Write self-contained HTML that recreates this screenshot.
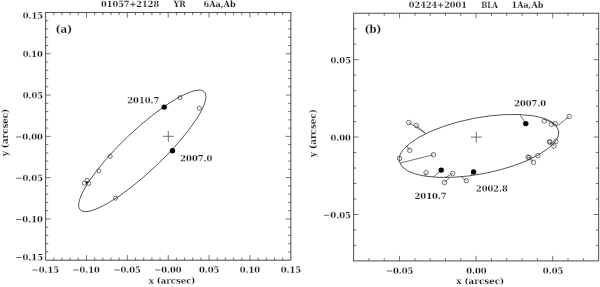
<!DOCTYPE html>
<html><head><meta charset="utf-8"><title>Orbits</title>
<style>
html,body{margin:0;padding:0;background:#fff;}
svg{display:block;font-family:'DejaVu Serif', 'Liberation Serif', serif;fill:#1a1a1a;}
text{font-weight:bold;font-kerning:none;stroke:#fff;stroke-width:0.16px;}
</style></head><body>
<svg width="600" height="287" viewBox="0 0 600 287">
<rect width="600" height="287" fill="#fff"/>
<rect x="45.60" y="12.50" width="245.25" height="247.70" fill="none" stroke="#555" stroke-width="1.05"/>
<line x1="53.77" y1="260.20" x2="53.77" y2="257.50" stroke="#383838" stroke-width="0.7"/>
<line x1="53.77" y1="12.50" x2="53.77" y2="15.20" stroke="#383838" stroke-width="0.7"/>
<line x1="45.60" y1="251.94" x2="48.30" y2="251.94" stroke="#383838" stroke-width="0.7"/>
<line x1="290.85" y1="251.94" x2="288.15" y2="251.94" stroke="#383838" stroke-width="0.7"/>
<line x1="61.95" y1="260.20" x2="61.95" y2="257.50" stroke="#383838" stroke-width="0.7"/>
<line x1="61.95" y1="12.50" x2="61.95" y2="15.20" stroke="#383838" stroke-width="0.7"/>
<line x1="45.60" y1="243.69" x2="48.30" y2="243.69" stroke="#383838" stroke-width="0.7"/>
<line x1="290.85" y1="243.69" x2="288.15" y2="243.69" stroke="#383838" stroke-width="0.7"/>
<line x1="70.12" y1="260.20" x2="70.12" y2="257.50" stroke="#383838" stroke-width="0.7"/>
<line x1="70.12" y1="12.50" x2="70.12" y2="15.20" stroke="#383838" stroke-width="0.7"/>
<line x1="45.60" y1="235.43" x2="48.30" y2="235.43" stroke="#383838" stroke-width="0.7"/>
<line x1="290.85" y1="235.43" x2="288.15" y2="235.43" stroke="#383838" stroke-width="0.7"/>
<line x1="78.30" y1="260.20" x2="78.30" y2="257.50" stroke="#383838" stroke-width="0.7"/>
<line x1="78.30" y1="12.50" x2="78.30" y2="15.20" stroke="#383838" stroke-width="0.7"/>
<line x1="45.60" y1="227.17" x2="48.30" y2="227.17" stroke="#383838" stroke-width="0.7"/>
<line x1="290.85" y1="227.17" x2="288.15" y2="227.17" stroke="#383838" stroke-width="0.7"/>
<line x1="86.47" y1="260.20" x2="86.47" y2="255.10" stroke="#383838" stroke-width="0.7"/>
<line x1="86.47" y1="12.50" x2="86.47" y2="17.60" stroke="#383838" stroke-width="0.7"/>
<line x1="45.60" y1="218.92" x2="50.70" y2="218.92" stroke="#383838" stroke-width="0.7"/>
<line x1="290.85" y1="218.92" x2="285.75" y2="218.92" stroke="#383838" stroke-width="0.7"/>
<line x1="94.65" y1="260.20" x2="94.65" y2="257.50" stroke="#383838" stroke-width="0.7"/>
<line x1="94.65" y1="12.50" x2="94.65" y2="15.20" stroke="#383838" stroke-width="0.7"/>
<line x1="45.60" y1="210.66" x2="48.30" y2="210.66" stroke="#383838" stroke-width="0.7"/>
<line x1="290.85" y1="210.66" x2="288.15" y2="210.66" stroke="#383838" stroke-width="0.7"/>
<line x1="102.83" y1="260.20" x2="102.83" y2="257.50" stroke="#383838" stroke-width="0.7"/>
<line x1="102.83" y1="12.50" x2="102.83" y2="15.20" stroke="#383838" stroke-width="0.7"/>
<line x1="45.60" y1="202.40" x2="48.30" y2="202.40" stroke="#383838" stroke-width="0.7"/>
<line x1="290.85" y1="202.40" x2="288.15" y2="202.40" stroke="#383838" stroke-width="0.7"/>
<line x1="111.00" y1="260.20" x2="111.00" y2="257.50" stroke="#383838" stroke-width="0.7"/>
<line x1="111.00" y1="12.50" x2="111.00" y2="15.20" stroke="#383838" stroke-width="0.7"/>
<line x1="45.60" y1="194.15" x2="48.30" y2="194.15" stroke="#383838" stroke-width="0.7"/>
<line x1="290.85" y1="194.15" x2="288.15" y2="194.15" stroke="#383838" stroke-width="0.7"/>
<line x1="119.18" y1="260.20" x2="119.18" y2="257.50" stroke="#383838" stroke-width="0.7"/>
<line x1="119.18" y1="12.50" x2="119.18" y2="15.20" stroke="#383838" stroke-width="0.7"/>
<line x1="45.60" y1="185.89" x2="48.30" y2="185.89" stroke="#383838" stroke-width="0.7"/>
<line x1="290.85" y1="185.89" x2="288.15" y2="185.89" stroke="#383838" stroke-width="0.7"/>
<line x1="127.35" y1="260.20" x2="127.35" y2="255.10" stroke="#383838" stroke-width="0.7"/>
<line x1="127.35" y1="12.50" x2="127.35" y2="17.60" stroke="#383838" stroke-width="0.7"/>
<line x1="45.60" y1="177.63" x2="50.70" y2="177.63" stroke="#383838" stroke-width="0.7"/>
<line x1="290.85" y1="177.63" x2="285.75" y2="177.63" stroke="#383838" stroke-width="0.7"/>
<line x1="135.53" y1="260.20" x2="135.53" y2="257.50" stroke="#383838" stroke-width="0.7"/>
<line x1="135.53" y1="12.50" x2="135.53" y2="15.20" stroke="#383838" stroke-width="0.7"/>
<line x1="45.60" y1="169.38" x2="48.30" y2="169.38" stroke="#383838" stroke-width="0.7"/>
<line x1="290.85" y1="169.38" x2="288.15" y2="169.38" stroke="#383838" stroke-width="0.7"/>
<line x1="143.70" y1="260.20" x2="143.70" y2="257.50" stroke="#383838" stroke-width="0.7"/>
<line x1="143.70" y1="12.50" x2="143.70" y2="15.20" stroke="#383838" stroke-width="0.7"/>
<line x1="45.60" y1="161.12" x2="48.30" y2="161.12" stroke="#383838" stroke-width="0.7"/>
<line x1="290.85" y1="161.12" x2="288.15" y2="161.12" stroke="#383838" stroke-width="0.7"/>
<line x1="151.88" y1="260.20" x2="151.88" y2="257.50" stroke="#383838" stroke-width="0.7"/>
<line x1="151.88" y1="12.50" x2="151.88" y2="15.20" stroke="#383838" stroke-width="0.7"/>
<line x1="45.60" y1="152.86" x2="48.30" y2="152.86" stroke="#383838" stroke-width="0.7"/>
<line x1="290.85" y1="152.86" x2="288.15" y2="152.86" stroke="#383838" stroke-width="0.7"/>
<line x1="160.05" y1="260.20" x2="160.05" y2="257.50" stroke="#383838" stroke-width="0.7"/>
<line x1="160.05" y1="12.50" x2="160.05" y2="15.20" stroke="#383838" stroke-width="0.7"/>
<line x1="45.60" y1="144.61" x2="48.30" y2="144.61" stroke="#383838" stroke-width="0.7"/>
<line x1="290.85" y1="144.61" x2="288.15" y2="144.61" stroke="#383838" stroke-width="0.7"/>
<line x1="168.23" y1="260.20" x2="168.23" y2="255.10" stroke="#383838" stroke-width="0.7"/>
<line x1="168.23" y1="12.50" x2="168.23" y2="17.60" stroke="#383838" stroke-width="0.7"/>
<line x1="45.60" y1="136.35" x2="50.70" y2="136.35" stroke="#383838" stroke-width="0.7"/>
<line x1="290.85" y1="136.35" x2="285.75" y2="136.35" stroke="#383838" stroke-width="0.7"/>
<line x1="176.40" y1="260.20" x2="176.40" y2="257.50" stroke="#383838" stroke-width="0.7"/>
<line x1="176.40" y1="12.50" x2="176.40" y2="15.20" stroke="#383838" stroke-width="0.7"/>
<line x1="45.60" y1="128.09" x2="48.30" y2="128.09" stroke="#383838" stroke-width="0.7"/>
<line x1="290.85" y1="128.09" x2="288.15" y2="128.09" stroke="#383838" stroke-width="0.7"/>
<line x1="184.58" y1="260.20" x2="184.58" y2="257.50" stroke="#383838" stroke-width="0.7"/>
<line x1="184.58" y1="12.50" x2="184.58" y2="15.20" stroke="#383838" stroke-width="0.7"/>
<line x1="45.60" y1="119.84" x2="48.30" y2="119.84" stroke="#383838" stroke-width="0.7"/>
<line x1="290.85" y1="119.84" x2="288.15" y2="119.84" stroke="#383838" stroke-width="0.7"/>
<line x1="192.75" y1="260.20" x2="192.75" y2="257.50" stroke="#383838" stroke-width="0.7"/>
<line x1="192.75" y1="12.50" x2="192.75" y2="15.20" stroke="#383838" stroke-width="0.7"/>
<line x1="45.60" y1="111.58" x2="48.30" y2="111.58" stroke="#383838" stroke-width="0.7"/>
<line x1="290.85" y1="111.58" x2="288.15" y2="111.58" stroke="#383838" stroke-width="0.7"/>
<line x1="200.93" y1="260.20" x2="200.93" y2="257.50" stroke="#383838" stroke-width="0.7"/>
<line x1="200.93" y1="12.50" x2="200.93" y2="15.20" stroke="#383838" stroke-width="0.7"/>
<line x1="45.60" y1="103.32" x2="48.30" y2="103.32" stroke="#383838" stroke-width="0.7"/>
<line x1="290.85" y1="103.32" x2="288.15" y2="103.32" stroke="#383838" stroke-width="0.7"/>
<line x1="209.10" y1="260.20" x2="209.10" y2="255.10" stroke="#383838" stroke-width="0.7"/>
<line x1="209.10" y1="12.50" x2="209.10" y2="17.60" stroke="#383838" stroke-width="0.7"/>
<line x1="45.60" y1="95.07" x2="50.70" y2="95.07" stroke="#383838" stroke-width="0.7"/>
<line x1="290.85" y1="95.07" x2="285.75" y2="95.07" stroke="#383838" stroke-width="0.7"/>
<line x1="217.28" y1="260.20" x2="217.28" y2="257.50" stroke="#383838" stroke-width="0.7"/>
<line x1="217.28" y1="12.50" x2="217.28" y2="15.20" stroke="#383838" stroke-width="0.7"/>
<line x1="45.60" y1="86.81" x2="48.30" y2="86.81" stroke="#383838" stroke-width="0.7"/>
<line x1="290.85" y1="86.81" x2="288.15" y2="86.81" stroke="#383838" stroke-width="0.7"/>
<line x1="225.45" y1="260.20" x2="225.45" y2="257.50" stroke="#383838" stroke-width="0.7"/>
<line x1="225.45" y1="12.50" x2="225.45" y2="15.20" stroke="#383838" stroke-width="0.7"/>
<line x1="45.60" y1="78.55" x2="48.30" y2="78.55" stroke="#383838" stroke-width="0.7"/>
<line x1="290.85" y1="78.55" x2="288.15" y2="78.55" stroke="#383838" stroke-width="0.7"/>
<line x1="233.62" y1="260.20" x2="233.62" y2="257.50" stroke="#383838" stroke-width="0.7"/>
<line x1="233.62" y1="12.50" x2="233.62" y2="15.20" stroke="#383838" stroke-width="0.7"/>
<line x1="45.60" y1="70.30" x2="48.30" y2="70.30" stroke="#383838" stroke-width="0.7"/>
<line x1="290.85" y1="70.30" x2="288.15" y2="70.30" stroke="#383838" stroke-width="0.7"/>
<line x1="241.80" y1="260.20" x2="241.80" y2="257.50" stroke="#383838" stroke-width="0.7"/>
<line x1="241.80" y1="12.50" x2="241.80" y2="15.20" stroke="#383838" stroke-width="0.7"/>
<line x1="45.60" y1="62.04" x2="48.30" y2="62.04" stroke="#383838" stroke-width="0.7"/>
<line x1="290.85" y1="62.04" x2="288.15" y2="62.04" stroke="#383838" stroke-width="0.7"/>
<line x1="249.98" y1="260.20" x2="249.98" y2="255.10" stroke="#383838" stroke-width="0.7"/>
<line x1="249.98" y1="12.50" x2="249.98" y2="17.60" stroke="#383838" stroke-width="0.7"/>
<line x1="45.60" y1="53.78" x2="50.70" y2="53.78" stroke="#383838" stroke-width="0.7"/>
<line x1="290.85" y1="53.78" x2="285.75" y2="53.78" stroke="#383838" stroke-width="0.7"/>
<line x1="258.15" y1="260.20" x2="258.15" y2="257.50" stroke="#383838" stroke-width="0.7"/>
<line x1="258.15" y1="12.50" x2="258.15" y2="15.20" stroke="#383838" stroke-width="0.7"/>
<line x1="45.60" y1="45.53" x2="48.30" y2="45.53" stroke="#383838" stroke-width="0.7"/>
<line x1="290.85" y1="45.53" x2="288.15" y2="45.53" stroke="#383838" stroke-width="0.7"/>
<line x1="266.33" y1="260.20" x2="266.33" y2="257.50" stroke="#383838" stroke-width="0.7"/>
<line x1="266.33" y1="12.50" x2="266.33" y2="15.20" stroke="#383838" stroke-width="0.7"/>
<line x1="45.60" y1="37.27" x2="48.30" y2="37.27" stroke="#383838" stroke-width="0.7"/>
<line x1="290.85" y1="37.27" x2="288.15" y2="37.27" stroke="#383838" stroke-width="0.7"/>
<line x1="274.50" y1="260.20" x2="274.50" y2="257.50" stroke="#383838" stroke-width="0.7"/>
<line x1="274.50" y1="12.50" x2="274.50" y2="15.20" stroke="#383838" stroke-width="0.7"/>
<line x1="45.60" y1="29.01" x2="48.30" y2="29.01" stroke="#383838" stroke-width="0.7"/>
<line x1="290.85" y1="29.01" x2="288.15" y2="29.01" stroke="#383838" stroke-width="0.7"/>
<line x1="282.68" y1="260.20" x2="282.68" y2="257.50" stroke="#383838" stroke-width="0.7"/>
<line x1="282.68" y1="12.50" x2="282.68" y2="15.20" stroke="#383838" stroke-width="0.7"/>
<line x1="45.60" y1="20.76" x2="48.30" y2="20.76" stroke="#383838" stroke-width="0.7"/>
<line x1="290.85" y1="20.76" x2="288.15" y2="20.76" stroke="#383838" stroke-width="0.7"/>
<text font-size="8.6" transform="translate(31.71 272.80) rotate(0.03) scale(0.9778 1)" xml:space="preserve">−0.15</text>
<text font-size="8.6" transform="translate(15.30 260.20) rotate(0.03) scale(0.9891 1)" xml:space="preserve">−0.15</text>
<text font-size="8.6" transform="translate(72.59 272.80) rotate(0.03) scale(0.9688 1)" xml:space="preserve">−0.10</text>
<text font-size="8.6" transform="translate(15.31 222.22) rotate(0.03) scale(0.9800 1)" xml:space="preserve">−0.10</text>
<text font-size="8.6" transform="translate(113.46 272.80) rotate(0.03) scale(0.9778 1)" xml:space="preserve">−0.05</text>
<text font-size="8.6" transform="translate(15.30 180.93) rotate(0.03) scale(0.9891 1)" xml:space="preserve">−0.05</text>
<text font-size="8.6" transform="translate(154.34 272.80) rotate(0.03) scale(0.9688 1)" xml:space="preserve">−0.00</text>
<text font-size="8.6" transform="translate(15.31 139.65) rotate(0.03) scale(0.9800 1)" xml:space="preserve">−0.00</text>
<text font-size="8.6" transform="translate(198.90 272.80) rotate(0.03) scale(0.9853 1)" xml:space="preserve">0.05</text>
<text font-size="8.6" transform="translate(22.71 98.37) rotate(0.03) scale(0.9753 1)" xml:space="preserve">0.05</text>
<text font-size="8.6" transform="translate(239.78 272.80) rotate(0.03) scale(0.9732 1)" xml:space="preserve">0.10</text>
<text font-size="8.6" transform="translate(22.71 57.08) rotate(0.03) scale(0.9633 1)" xml:space="preserve">0.10</text>
<text font-size="8.6" transform="translate(280.65 272.80) rotate(0.03) scale(0.9853 1)" xml:space="preserve">0.15</text>
<text font-size="8.6" transform="translate(22.71 18.40) rotate(0.03) scale(0.9753 1)" xml:space="preserve">0.15</text>
<text font-size="8.6" transform="translate(148.70 283.40) rotate(0.03) scale(0.9929 1)" xml:space="preserve">x (arcsec)</text>
<text font-size="8.6" transform="translate(8.10 156.19) rotate(-90) scale(1.0084 1)" xml:space="preserve">y (arcsec)</text>
<text font-size="8.6" transform="translate(101.12 6.90) rotate(0.03) scale(0.9519 1)" xml:space="preserve">01057+2128</text>
<text font-size="8.6" transform="translate(173.67 6.90) rotate(0.03) scale(0.8947 1)" xml:space="preserve">YR</text>
<text font-size="8.6" transform="translate(203.48 6.90) rotate(0.03) scale(0.9509 1)" xml:space="preserve">6Aa,Ab</text>
<text font-size="10.8" transform="translate(55.61 32.70) rotate(0.03) scale(0.9689 1)" xml:space="preserve">(a)</text>
<ellipse cx="142.30" cy="150.85" rx="85.60" ry="20.33" transform="rotate(136.49 142.30 150.85)" fill="none" stroke="#383838" stroke-width="0.8"/>
<line x1="162.80" y1="136.30" x2="173.80" y2="136.30" stroke="#383838" stroke-width="0.7"/>
<line x1="168.30" y1="130.80" x2="168.30" y2="141.80" stroke="#383838" stroke-width="0.7"/>
<circle cx="180.00" cy="97.60" r="2.05" fill="none" stroke="#383838" stroke-width="0.7"/>
<circle cx="199.30" cy="108.30" r="2.05" fill="none" stroke="#383838" stroke-width="0.7"/>
<circle cx="110.20" cy="156.30" r="2.05" fill="none" stroke="#383838" stroke-width="0.7"/>
<circle cx="98.80" cy="170.90" r="2.05" fill="none" stroke="#383838" stroke-width="0.7"/>
<circle cx="87.15" cy="180.40" r="2.05" fill="none" stroke="#383838" stroke-width="0.7"/>
<circle cx="84.30" cy="183.30" r="2.05" fill="none" stroke="#383838" stroke-width="0.7"/>
<circle cx="88.80" cy="183.40" r="2.05" fill="none" stroke="#383838" stroke-width="0.7"/>
<circle cx="115.60" cy="198.10" r="2.05" fill="none" stroke="#383838" stroke-width="0.7"/>
<circle cx="164.20" cy="107.10" r="2.7" fill="#000"/>
<circle cx="172.50" cy="150.80" r="2.7" fill="#000"/>
<circle cx="86.70" cy="182.50" r="1.1" fill="#000"/>
<text font-size="8.6" transform="translate(127.24 103.30) rotate(0.03) scale(0.9771 1)" xml:space="preserve">2010.7</text>
<text font-size="8.6" transform="translate(180.24 161.20) rotate(0.03) scale(0.9770 1)" xml:space="preserve">2007.0</text>
<rect x="353.60" y="13.25" width="245.05" height="247.65" fill="none" stroke="#555" stroke-width="1.05"/>
<line x1="368.92" y1="260.90" x2="368.92" y2="258.20" stroke="#383838" stroke-width="0.7"/>
<line x1="368.92" y1="13.25" x2="368.92" y2="15.95" stroke="#383838" stroke-width="0.7"/>
<line x1="353.60" y1="245.42" x2="356.30" y2="245.42" stroke="#383838" stroke-width="0.7"/>
<line x1="598.65" y1="245.42" x2="595.95" y2="245.42" stroke="#383838" stroke-width="0.7"/>
<line x1="384.23" y1="260.90" x2="384.23" y2="258.20" stroke="#383838" stroke-width="0.7"/>
<line x1="384.23" y1="13.25" x2="384.23" y2="15.95" stroke="#383838" stroke-width="0.7"/>
<line x1="353.60" y1="229.94" x2="356.30" y2="229.94" stroke="#383838" stroke-width="0.7"/>
<line x1="598.65" y1="229.94" x2="595.95" y2="229.94" stroke="#383838" stroke-width="0.7"/>
<line x1="399.55" y1="260.90" x2="399.55" y2="255.80" stroke="#383838" stroke-width="0.7"/>
<line x1="399.55" y1="13.25" x2="399.55" y2="18.35" stroke="#383838" stroke-width="0.7"/>
<line x1="353.60" y1="214.47" x2="358.70" y2="214.47" stroke="#383838" stroke-width="0.7"/>
<line x1="598.65" y1="214.47" x2="593.55" y2="214.47" stroke="#383838" stroke-width="0.7"/>
<line x1="414.86" y1="260.90" x2="414.86" y2="258.20" stroke="#383838" stroke-width="0.7"/>
<line x1="414.86" y1="13.25" x2="414.86" y2="15.95" stroke="#383838" stroke-width="0.7"/>
<line x1="353.60" y1="198.99" x2="356.30" y2="198.99" stroke="#383838" stroke-width="0.7"/>
<line x1="598.65" y1="198.99" x2="595.95" y2="198.99" stroke="#383838" stroke-width="0.7"/>
<line x1="430.18" y1="260.90" x2="430.18" y2="258.20" stroke="#383838" stroke-width="0.7"/>
<line x1="430.18" y1="13.25" x2="430.18" y2="15.95" stroke="#383838" stroke-width="0.7"/>
<line x1="353.60" y1="183.51" x2="356.30" y2="183.51" stroke="#383838" stroke-width="0.7"/>
<line x1="598.65" y1="183.51" x2="595.95" y2="183.51" stroke="#383838" stroke-width="0.7"/>
<line x1="445.49" y1="260.90" x2="445.49" y2="258.20" stroke="#383838" stroke-width="0.7"/>
<line x1="445.49" y1="13.25" x2="445.49" y2="15.95" stroke="#383838" stroke-width="0.7"/>
<line x1="353.60" y1="168.03" x2="356.30" y2="168.03" stroke="#383838" stroke-width="0.7"/>
<line x1="598.65" y1="168.03" x2="595.95" y2="168.03" stroke="#383838" stroke-width="0.7"/>
<line x1="460.81" y1="260.90" x2="460.81" y2="258.20" stroke="#383838" stroke-width="0.7"/>
<line x1="460.81" y1="13.25" x2="460.81" y2="15.95" stroke="#383838" stroke-width="0.7"/>
<line x1="353.60" y1="152.55" x2="356.30" y2="152.55" stroke="#383838" stroke-width="0.7"/>
<line x1="598.65" y1="152.55" x2="595.95" y2="152.55" stroke="#383838" stroke-width="0.7"/>
<line x1="476.12" y1="260.90" x2="476.12" y2="255.80" stroke="#383838" stroke-width="0.7"/>
<line x1="476.12" y1="13.25" x2="476.12" y2="18.35" stroke="#383838" stroke-width="0.7"/>
<line x1="353.60" y1="137.07" x2="358.70" y2="137.07" stroke="#383838" stroke-width="0.7"/>
<line x1="598.65" y1="137.07" x2="593.55" y2="137.07" stroke="#383838" stroke-width="0.7"/>
<line x1="491.44" y1="260.90" x2="491.44" y2="258.20" stroke="#383838" stroke-width="0.7"/>
<line x1="491.44" y1="13.25" x2="491.44" y2="15.95" stroke="#383838" stroke-width="0.7"/>
<line x1="353.60" y1="121.60" x2="356.30" y2="121.60" stroke="#383838" stroke-width="0.7"/>
<line x1="598.65" y1="121.60" x2="595.95" y2="121.60" stroke="#383838" stroke-width="0.7"/>
<line x1="506.76" y1="260.90" x2="506.76" y2="258.20" stroke="#383838" stroke-width="0.7"/>
<line x1="506.76" y1="13.25" x2="506.76" y2="15.95" stroke="#383838" stroke-width="0.7"/>
<line x1="353.60" y1="106.12" x2="356.30" y2="106.12" stroke="#383838" stroke-width="0.7"/>
<line x1="598.65" y1="106.12" x2="595.95" y2="106.12" stroke="#383838" stroke-width="0.7"/>
<line x1="522.07" y1="260.90" x2="522.07" y2="258.20" stroke="#383838" stroke-width="0.7"/>
<line x1="522.07" y1="13.25" x2="522.07" y2="15.95" stroke="#383838" stroke-width="0.7"/>
<line x1="353.60" y1="90.64" x2="356.30" y2="90.64" stroke="#383838" stroke-width="0.7"/>
<line x1="598.65" y1="90.64" x2="595.95" y2="90.64" stroke="#383838" stroke-width="0.7"/>
<line x1="537.39" y1="260.90" x2="537.39" y2="258.20" stroke="#383838" stroke-width="0.7"/>
<line x1="537.39" y1="13.25" x2="537.39" y2="15.95" stroke="#383838" stroke-width="0.7"/>
<line x1="353.60" y1="75.16" x2="356.30" y2="75.16" stroke="#383838" stroke-width="0.7"/>
<line x1="598.65" y1="75.16" x2="595.95" y2="75.16" stroke="#383838" stroke-width="0.7"/>
<line x1="552.70" y1="260.90" x2="552.70" y2="255.80" stroke="#383838" stroke-width="0.7"/>
<line x1="552.70" y1="13.25" x2="552.70" y2="18.35" stroke="#383838" stroke-width="0.7"/>
<line x1="353.60" y1="59.68" x2="358.70" y2="59.68" stroke="#383838" stroke-width="0.7"/>
<line x1="598.65" y1="59.68" x2="593.55" y2="59.68" stroke="#383838" stroke-width="0.7"/>
<line x1="568.02" y1="260.90" x2="568.02" y2="258.20" stroke="#383838" stroke-width="0.7"/>
<line x1="568.02" y1="13.25" x2="568.02" y2="15.95" stroke="#383838" stroke-width="0.7"/>
<line x1="353.60" y1="44.21" x2="356.30" y2="44.21" stroke="#383838" stroke-width="0.7"/>
<line x1="598.65" y1="44.21" x2="595.95" y2="44.21" stroke="#383838" stroke-width="0.7"/>
<line x1="583.33" y1="260.90" x2="583.33" y2="258.20" stroke="#383838" stroke-width="0.7"/>
<line x1="583.33" y1="13.25" x2="583.33" y2="15.95" stroke="#383838" stroke-width="0.7"/>
<line x1="353.60" y1="28.73" x2="356.30" y2="28.73" stroke="#383838" stroke-width="0.7"/>
<line x1="598.65" y1="28.73" x2="595.95" y2="28.73" stroke="#383838" stroke-width="0.7"/>
<text font-size="8.6" transform="translate(385.96 273.80) rotate(0.03) scale(0.9778 1)" xml:space="preserve">−0.05</text>
<text font-size="8.6" transform="translate(323.10 218.12) rotate(0.03) scale(0.9929 1)" xml:space="preserve">−0.05</text>
<text font-size="8.6" transform="translate(466.23 273.80) rotate(0.03) scale(0.9732 1)" xml:space="preserve">0.00</text>
<text font-size="8.6" transform="translate(330.51 140.72) rotate(0.03) scale(0.9682 1)" xml:space="preserve">0.00</text>
<text font-size="8.6" transform="translate(542.81 273.80) rotate(0.03) scale(0.9853 1)" xml:space="preserve">0.05</text>
<text font-size="8.6" transform="translate(330.50 63.33) rotate(0.03) scale(0.9803 1)" xml:space="preserve">0.05</text>
<text font-size="8.6" transform="translate(456.20 284.10) rotate(0.03) scale(1.0188 1)" xml:space="preserve">x (arcsec)</text>
<text font-size="8.6" transform="translate(315.80 157.18) rotate(-90) scale(1.0256 1)" xml:space="preserve">y (arcsec)</text>
<text font-size="8.6" transform="translate(408.87 7.70) rotate(0.03) scale(0.9532 1)" xml:space="preserve">02424+2001</text>
<text font-size="8.6" transform="translate(481.16 7.70) rotate(0.03) scale(0.8333 1)" xml:space="preserve">BLA</text>
<text font-size="8.6" transform="translate(511.52 7.70) rotate(0.03) scale(0.9380 1)" xml:space="preserve">1Aa,Ab</text>
<text font-size="10.8" transform="translate(364.42 32.70) rotate(0.03) scale(0.9602 1)" xml:space="preserve">(b)</text>
<ellipse cx="478.93" cy="145.95" rx="81.12" ry="28.05" transform="rotate(169.07 478.93 145.95)" fill="none" stroke="#383838" stroke-width="0.8"/>
<line x1="470.80" y1="137.10" x2="481.80" y2="137.10" stroke="#383838" stroke-width="0.7"/>
<line x1="476.30" y1="131.60" x2="476.30" y2="142.60" stroke="#383838" stroke-width="0.7"/>
<line x1="408.75" y1="122.50" x2="425.60" y2="133.40" stroke="#383838" stroke-width="0.7"/>
<line x1="416.30" y1="125.40" x2="425.60" y2="133.40" stroke="#383838" stroke-width="0.7"/>
<line x1="409.75" y1="150.30" x2="406.70" y2="146.00" stroke="#383838" stroke-width="0.7"/>
<line x1="433.50" y1="154.70" x2="400.40" y2="163.00" stroke="#383838" stroke-width="0.7"/>
<line x1="426.10" y1="172.70" x2="425.10" y2="175.90" stroke="#383838" stroke-width="0.7"/>
<line x1="452.70" y1="173.40" x2="445.20" y2="177.60" stroke="#383838" stroke-width="0.7"/>
<line x1="444.50" y1="182.50" x2="449.90" y2="177.60" stroke="#383838" stroke-width="0.7"/>
<line x1="466.30" y1="180.70" x2="461.10" y2="176.80" stroke="#383838" stroke-width="0.7"/>
<line x1="544.00" y1="119.30" x2="554.20" y2="123.60" stroke="#383838" stroke-width="0.7"/>
<line x1="569.10" y1="116.40" x2="557.30" y2="126.00" stroke="#383838" stroke-width="0.7"/>
<line x1="533.50" y1="162.30" x2="529.50" y2="158.00" stroke="#383838" stroke-width="0.7"/>
<line x1="441.20" y1="170.10" x2="433.00" y2="177.30" stroke="#383838" stroke-width="0.7"/>
<line x1="473.60" y1="171.90" x2="471.10" y2="175.10" stroke="#383838" stroke-width="0.7"/>
<line x1="525.80" y1="123.60" x2="519.80" y2="114.70" stroke="#383838" stroke-width="0.7"/>
<line x1="549.40" y1="141.70" x2="552.40" y2="144.20" stroke="#383838" stroke-width="0.7"/>
<line x1="550.20" y1="142.30" x2="552.40" y2="144.20" stroke="#383838" stroke-width="0.7"/>
<line x1="556.00" y1="141.40" x2="553.00" y2="143.80" stroke="#383838" stroke-width="0.7"/>
<line x1="553.90" y1="146.10" x2="552.70" y2="144.10" stroke="#383838" stroke-width="0.7"/>
<line x1="528.20" y1="157.10" x2="530.20" y2="157.70" stroke="#383838" stroke-width="0.7"/>
<line x1="529.20" y1="157.60" x2="530.20" y2="157.70" stroke="#383838" stroke-width="0.7"/>
<line x1="551.40" y1="124.30" x2="553.20" y2="122.90" stroke="#383838" stroke-width="0.7"/>
<line x1="555.30" y1="123.60" x2="555.90" y2="124.90" stroke="#383838" stroke-width="0.7"/>
<circle cx="408.75" cy="122.50" r="2.25" fill="none" stroke="#383838" stroke-width="0.7"/>
<circle cx="416.30" cy="125.40" r="2.25" fill="none" stroke="#383838" stroke-width="0.7"/>
<circle cx="409.75" cy="150.30" r="2.25" fill="none" stroke="#383838" stroke-width="0.7"/>
<circle cx="433.50" cy="154.70" r="2.25" fill="none" stroke="#383838" stroke-width="0.7"/>
<circle cx="399.50" cy="158.40" r="2.25" fill="none" stroke="#383838" stroke-width="0.7"/>
<circle cx="426.10" cy="172.70" r="2.25" fill="none" stroke="#383838" stroke-width="0.7"/>
<circle cx="452.70" cy="173.40" r="2.25" fill="none" stroke="#383838" stroke-width="0.7"/>
<circle cx="444.50" cy="182.50" r="2.25" fill="none" stroke="#383838" stroke-width="0.7"/>
<circle cx="466.30" cy="180.70" r="2.25" fill="none" stroke="#383838" stroke-width="0.7"/>
<circle cx="544.20" cy="121.00" r="2.25" fill="none" stroke="#383838" stroke-width="0.7"/>
<circle cx="551.40" cy="124.30" r="2.25" fill="none" stroke="#383838" stroke-width="0.7"/>
<circle cx="555.10" cy="123.70" r="2.25" fill="none" stroke="#383838" stroke-width="0.7"/>
<circle cx="569.10" cy="116.40" r="2.25" fill="none" stroke="#383838" stroke-width="0.7"/>
<circle cx="549.40" cy="141.70" r="2.25" fill="none" stroke="#383838" stroke-width="0.7"/>
<circle cx="550.20" cy="142.30" r="2.25" fill="none" stroke="#383838" stroke-width="0.7"/>
<circle cx="556.00" cy="141.40" r="2.25" fill="none" stroke="#383838" stroke-width="0.7"/>
<circle cx="553.90" cy="146.10" r="2.25" fill="none" stroke="#383838" stroke-width="0.7"/>
<circle cx="537.90" cy="155.60" r="2.25" fill="none" stroke="#383838" stroke-width="0.7"/>
<circle cx="528.20" cy="157.10" r="2.25" fill="none" stroke="#383838" stroke-width="0.7"/>
<circle cx="529.20" cy="157.60" r="2.25" fill="none" stroke="#383838" stroke-width="0.7"/>
<circle cx="533.50" cy="162.30" r="2.25" fill="none" stroke="#383838" stroke-width="0.7"/>
<circle cx="441.20" cy="170.10" r="2.7" fill="#000"/>
<circle cx="473.60" cy="171.90" r="2.7" fill="#000"/>
<circle cx="525.80" cy="123.60" r="2.7" fill="#000"/>
<text font-size="8.6" transform="translate(514.24 106.20) rotate(0.03) scale(0.9676 1)" xml:space="preserve">2007.0</text>
<text font-size="8.6" transform="translate(414.44 199.00) rotate(0.03) scale(0.9803 1)" xml:space="preserve">2010.7</text>
<text font-size="8.6" transform="translate(476.04 191.40) rotate(0.03) scale(0.9662 1)" xml:space="preserve">2002.8</text>
</svg>
</body></html>
